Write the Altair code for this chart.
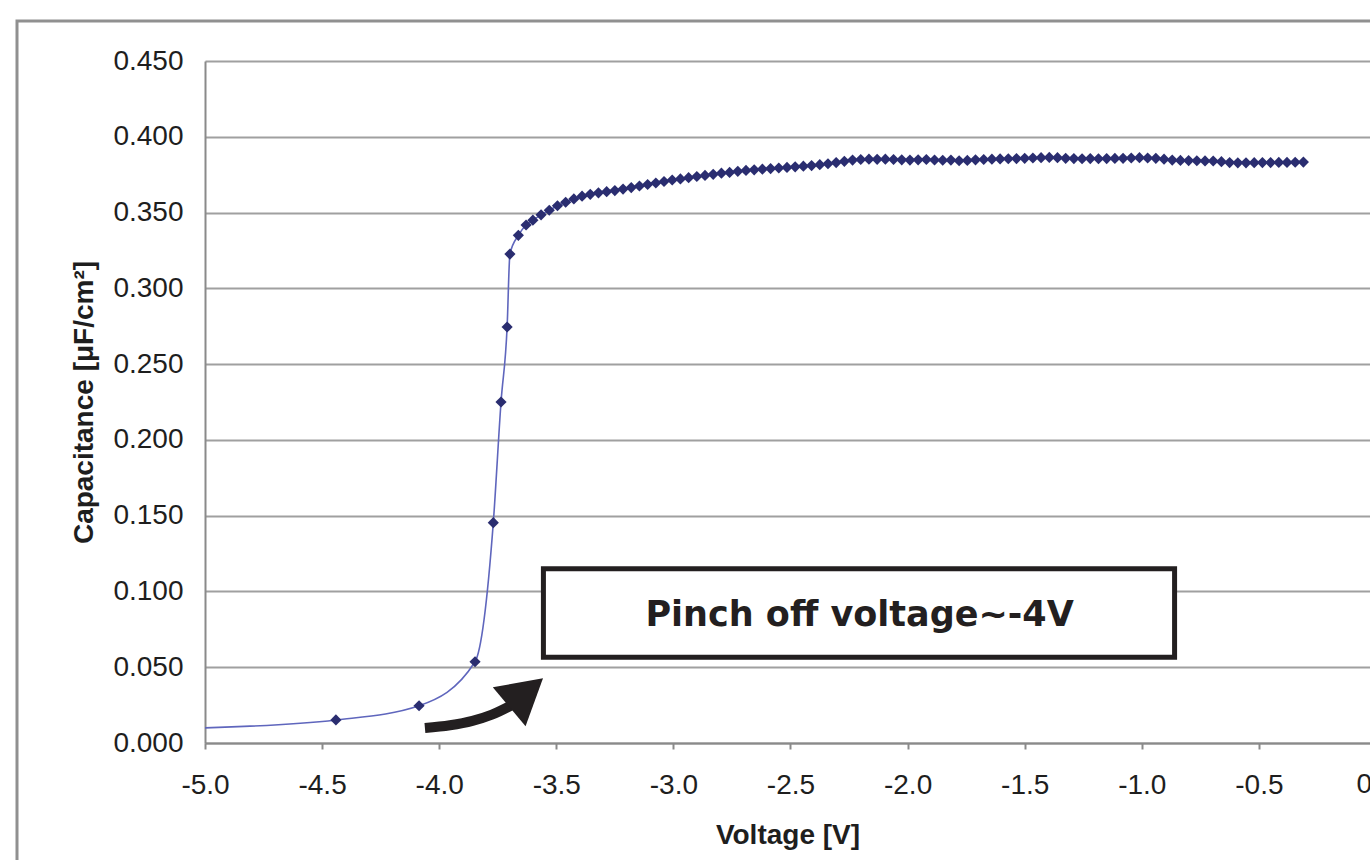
import altair as alt
import pandas as pd

# ---- data ----
v_steep = [-5.0, -4.441, -4.086, -3.847, -3.769, -3.736, -3.710, -3.698, -3.662, -3.629]
c_steep = [0.0100, 0.0152, 0.0246, 0.0536, 0.1454, 0.2250, 0.2745, 0.3226, 0.3350, 0.3418]

v_plateau = [
    -3.600, -3.565, -3.530, -3.495, -3.460, -3.425, -3.390, -3.355, -3.320, -3.285,
    -3.250, -3.215, -3.180, -3.145, -3.110, -3.075, -3.040, -3.005, -2.970, -2.935,
    -2.900, -2.865, -2.830, -2.795, -2.760, -2.725, -2.690, -2.655, -2.620, -2.585,
    -2.550, -2.515, -2.480, -2.445, -2.410, -2.375, -2.340, -2.305, -2.270, -2.235,
    -2.200, -2.165, -2.130, -2.095, -2.060, -2.025, -1.990, -1.955, -1.920, -1.885,
    -1.850, -1.815, -1.780, -1.745, -1.710, -1.675, -1.640, -1.605, -1.570, -1.535,
    -1.500, -1.465, -1.430, -1.395, -1.360, -1.325, -1.290, -1.255, -1.220, -1.185,
    -1.150, -1.115, -1.080, -1.045, -1.010, -0.975, -0.940, -0.905, -0.870, -0.835,
    -0.800, -0.765, -0.730, -0.695, -0.660, -0.625, -0.590, -0.555, -0.520, -0.485,
    -0.450, -0.415, -0.380, -0.345, -0.310,
]
c_plateau = [
    0.3450, 0.3485, 0.3515, 0.3545, 0.3568, 0.3590, 0.3608, 0.3620, 0.3630, 0.3638,
    0.3645, 0.3655, 0.3665, 0.3675, 0.3685, 0.3695, 0.3705, 0.3715, 0.3722, 0.3730,
    0.3738, 0.3745, 0.3752, 0.3760, 0.3765, 0.3772, 0.3778, 0.3782, 0.3786, 0.3790,
    0.3794, 0.3798, 0.3802, 0.3806, 0.3810, 0.3816, 0.3822, 0.3830, 0.3838, 0.3846,
    0.3850, 0.3852, 0.3851, 0.3852, 0.3850, 0.3848, 0.3846, 0.3848, 0.3850, 0.3847,
    0.3845, 0.3846, 0.3842, 0.3844, 0.3848, 0.3850, 0.3852, 0.3854, 0.3855, 0.3856,
    0.3858, 0.3860, 0.3862, 0.3864, 0.3862, 0.3858, 0.3856, 0.3855, 0.3856, 0.3855,
    0.3856, 0.3857, 0.3858, 0.3860, 0.3862, 0.3860, 0.3858, 0.3852, 0.3846, 0.3844,
    0.3843, 0.3842, 0.3841, 0.3840, 0.3836, 0.3830, 0.3828, 0.3828, 0.3829, 0.3830,
    0.3830, 0.3831, 0.3831, 0.3832, 0.3833,
]

x_ticks = [-5.0, -4.5, -4.0, -3.5, -3.0, -2.5, -2.0, -1.5, -1.0, -0.5]
y_ticks = [0.0, 0.05, 0.10, 0.15, 0.20, 0.25, 0.30, 0.35, 0.40, 0.45]
edge_label = ["0.0"]
edge_label_v = [0.0]

note_text = ["Pinch off voltage~-4V"]
note_box_v = [-3.555, -0.860]
note_box_c = [0.0565, 0.1150]
note_text_pos = [-2.205, 0.0845]
arrow_v = [-4.061, -3.954, -3.858, -3.775, -3.689]
arrow_c = [0.0099, 0.0117, 0.0146, 0.0187, 0.0251]
arrow_head = [-3.629, 0.0333]

# ---- tables ----
V = v_steep + v_plateau
C = c_steep + c_plateau
curve = pd.DataFrame({"V": V, "C": C})
markers = curve.iloc[1:]
box = pd.DataFrame({"v1": [note_box_v[0]], "v2": [note_box_v[1]],
                    "c1": [note_box_c[0]], "c2": [note_box_c[1]]})
label = pd.DataFrame({"V": [note_text_pos[0]], "C": [note_text_pos[1]], "t": note_text})
arrow = pd.DataFrame({"V": arrow_v, "C": arrow_c})
head = pd.DataFrame({"V": [arrow_head[0]], "C": [arrow_head[1]]})
edge = pd.DataFrame({"V": edge_label_v, "t": edge_label})
one = pd.DataFrame({"k": [0]})

W, H = 1165, 682
FONT = "Liberation Sans"
TXT = "#1e1e1e"

xs = alt.Scale(domain=[-5.0, -0.0256], nice=False, zero=False)
ys = alt.Scale(domain=[0, 0.45], nice=False)

x_axis = alt.Axis(values=x_ticks, format=".1f",
                  labelExpr="replace(datum.label, '\u2212', '-')",
                  labelFont=FONT, labelFontSize=28,
                  labelColor=TXT, tickSize=6, tickColor="#8a8a8a", tickWidth=2,
                  domainColor="#8a8a8a", domainWidth=2, grid=False, labelPadding=22,
                  labelFlush=False, labelOverlap=False, title="Voltage [V]",
                  titleFont=FONT, titleFontSize=28, titleFontWeight="bold",
                  titleColor=TXT, titlePadding=22)
y_axis = alt.Axis(values=y_ticks, format=".3f", labelFont=FONT, labelFontSize=28,
                  labelColor=TXT, ticks=False, domainColor="#8a8a8a", domainWidth=2,
                  grid=True, gridColor="#a0a0a0", gridWidth=2, labelPadding=22,
                  labelFlush=False, labelOverlap=False,
                  title="Capacitance [\u03bcF/cm\u00b2]", titleFont=FONT,
                  titleFontSize=28, titleFontWeight="bold", titleColor=TXT,
                  titlePadding=14)

frame = alt.Chart(one).mark_rect(fillOpacity=0, stroke="#909090", strokeWidth=3,
                                  clip=False).encode(
    x=alt.value(-188), x2=alt.value(W + 60), y=alt.value(-40), y2=alt.value(H + 200))

line = alt.Chart(curve).mark_line(color="#5f66bd", strokeWidth=1.6,
                                  interpolate="monotone").encode(
    x=alt.X("V:Q", scale=xs, axis=x_axis),
    y=alt.Y("C:Q", scale=ys, axis=y_axis))

pts = alt.Chart(markers).mark_point(shape="diamond", filled=True, size=125,
                                    color="#2a2d70", opacity=1).encode(
    x=alt.X("V:Q", scale=xs), y=alt.Y("C:Q", scale=ys))

rect = alt.Chart(box).mark_rect(fill="white", stroke="#231f20", strokeWidth=5).encode(
    x=alt.X("v1:Q", scale=xs), x2="v2:Q",
    y=alt.Y("c1:Q", scale=ys), y2="c2:Q")

txt = alt.Chart(label).mark_text(font="DejaVu Sans", fontWeight="bold", fontSize=35,
                                 color="#231f20", align="center",
                                 baseline="middle").encode(
    x=alt.X("V:Q", scale=xs), y=alt.Y("C:Q", scale=ys), text="t:N")

arr = alt.Chart(arrow).mark_line(color="#231f20", strokeWidth=10,
                                 interpolate="monotone", strokeCap="butt").encode(
    x=alt.X("V:Q", scale=xs), y=alt.Y("C:Q", scale=ys))

arr_head = alt.Chart(head).mark_point(shape="triangle-up", filled=True, size=2600,
                                      angle=50, color="#231f20", opacity=1).encode(
    x=alt.X("V:Q", scale=xs), y=alt.Y("C:Q", scale=ys))

edge_txt = alt.Chart(edge).mark_text(font=FONT, fontSize=28, color=TXT, align="center",
                                     baseline="top", clip=False).encode(
    x=alt.X("V:Q", scale=xs), y=alt.value(H + 6 + 22), text="t:N")

chart = alt.layer(frame, line, pts, rect, txt, arr, arr_head, edge_txt).properties(
    width=W, height=H,
    autosize=alt.AutoSizeParams(type="none"),
    padding={"left": 205, "top": 61, "right": 0, "bottom": 117},
    background="white",
).configure_view(strokeWidth=0)

chart.save("out.html", embed_options={"renderer": "svg", "actions": False})
